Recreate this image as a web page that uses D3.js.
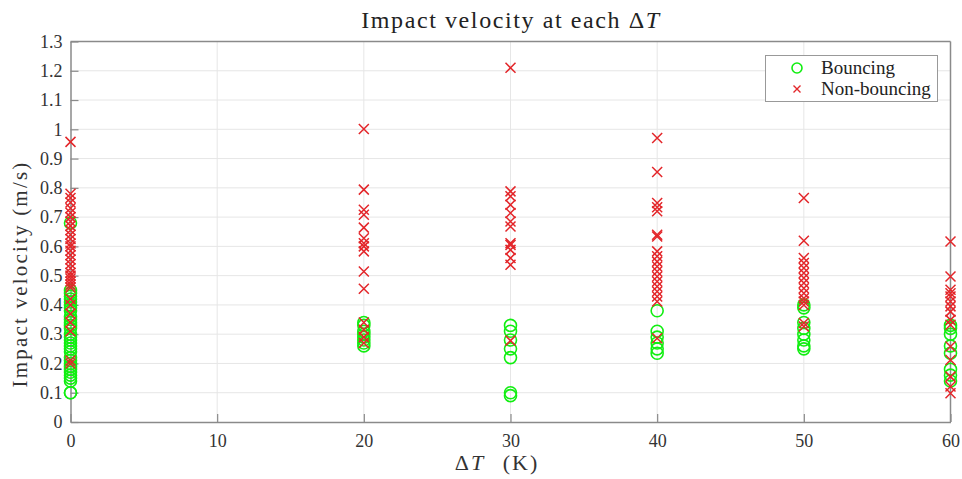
<!DOCTYPE html>
<html><head><meta charset="utf-8">
<script src="https://cdn.jsdelivr.net/npm/d3@7"></script>
<style>body{margin:0;background:#fff}svg text{font-family:"Liberation Serif","Times New Roman",serif}</style>
</head><body><svg id="c" width="962" height="479"></svg>
<script>
const xTicks = [0,10,20,30,40,50,60];
const yTicks = [0,0.1,0.2,0.3,0.4,0.5,0.6,0.7,0.8,0.9,1,1.1,1.2,1.3];
const deltaT = [0,20,30,40,50,60];
const bouncing = [
  [0.68,0.45,0.44,0.43,0.42,0.41,0.40,0.39,0.38,0.36,0.35,0.34,0.33,0.32,0.30,0.29,0.28,0.27,0.26,0.25,0.24,0.22,0.21,0.20,0.19,0.18,0.17,0.16,0.15,0.14,0.10,0.10],
  [0.34,0.33,0.31,0.30,0.29,0.28,0.27,0.26],
  [0.33,0.31,0.28,0.25,0.22,0.10,0.09],
  [0.38,0.31,0.29,0.27,0.25,0.235],
  [0.40,0.39,0.34,0.32,0.30,0.28,0.26,0.25],
  [0.33,0.32,0.30,0.26,0.235,0.18,0.16,0.14]
];
const nonBouncing = [
  [0.957,0.78,0.765,0.75,0.73,0.715,0.70,0.685,0.67,0.655,0.64,0.625,0.61,0.60,0.585,0.57,0.555,0.54,0.525,0.51,0.50,0.49,0.48,0.47,0.46,0.42,0.40,0.37,0.34,0.31,0.21,0.20],
  [1.001,0.794,0.725,0.708,0.664,0.628,0.611,0.60,0.583,0.514,0.455,0.34,0.315,0.29,0.27],
  [1.21,0.788,0.771,0.742,0.714,0.685,0.668,0.611,0.605,0.588,0.56,0.537,0.278],
  [0.970,0.854,0.748,0.734,0.72,0.64,0.634,0.583,0.566,0.548,0.531,0.514,0.497,0.48,0.463,0.446,0.429,0.412,0.286],
  [0.765,0.619,0.56,0.543,0.526,0.509,0.492,0.475,0.457,0.44,0.423,0.412,0.40,0.338,0.326],
  [0.617,0.497,0.452,0.44,0.429,0.412,0.395,0.377,0.349,0.332,0.258,0.212,0.155,0.121,0.098]
];

const svg = d3.select("#c");
const L=70.5, R=950.5, T=41.5, B=422;
const x = d3.scaleLinear().domain([0,60]).range([L,R]);
const y = d3.scaleLinear().domain([0,1.3]).range([B,T]);
const axisCol="#8a8a8a", gridCol="#e6e6e6";

// grid
svg.append("g").selectAll("line").data(xTicks.slice(1,-1)).join("line")
  .attr("x1",d=>x(d)).attr("x2",d=>x(d)).attr("y1",T).attr("y2",B)
  .attr("stroke",gridCol).attr("stroke-width",1);
svg.append("g").selectAll("line").data(yTicks.slice(1,-1)).join("line")
  .attr("y1",d=>y(d)).attr("y2",d=>y(d)).attr("x1",L).attr("x2",R)
  .attr("stroke",gridCol).attr("stroke-width",1);

// axes
const xa = svg.append("g").attr("transform",`translate(0,${B})`)
  .call(d3.axisBottom(x).tickValues(xTicks).tickFormat(d3.format("d")).tickSizeInner(-8).tickSizeOuter(0).tickPadding(12));
const ya = svg.append("g").attr("transform",`translate(${L},0)`)
  .call(d3.axisLeft(y).tickValues(yTicks).tickFormat(d=>d3.format("")(+d.toFixed(1))).tickSizeInner(-8).tickSizeOuter(0).tickPadding(8));
[xa,ya].forEach(a=>{
  a.select(".domain").attr("stroke",axisCol).attr("stroke-width",1.5);
  a.selectAll(".tick line").attr("stroke",axisCol).attr("stroke-width",1.2);
  a.selectAll(".tick text").attr("fill","#333").attr("font-size",18).attr("font-family","Liberation Serif");
});
// box top/right
svg.append("line").attr("x1",L).attr("x2",R).attr("y1",T).attr("y2",T).attr("stroke",axisCol).attr("stroke-width",1.5);
svg.append("line").attr("x1",R).attr("x2",R).attr("y1",T).attr("y2",B).attr("stroke",axisCol).attr("stroke-width",1.5);

// data
const green="#11ee11", red="#e3262a";
deltaT.forEach((dt,i)=>{
  svg.append("g").selectAll("circle").data(bouncing[i]).join("circle")
    .attr("cx",x(dt)).attr("cy",d=>y(d)).attr("r",6)
    .attr("fill","none").attr("stroke",green).attr("stroke-width",1.6);
});
const xs=5;
deltaT.forEach((dt,i)=>{
  svg.append("g").selectAll("path").data(nonBouncing[i]).join("path")
    .attr("d",d=>{const cx=x(dt),cy=y(d);return `M${cx-xs},${cy-xs}L${cx+xs},${cy+xs}M${cx-xs},${cy+xs}L${cx+xs},${cy-xs}`;})
    .attr("stroke",red).attr("stroke-width",1.5).attr("fill","none");
});

// title and labels
const title = svg.append("text").attr("x",511).attr("y",28).attr("text-anchor","middle").attr("font-size",24)
  .attr("letter-spacing",1.6).attr("fill","#222");
title.append("tspan").text("Impact velocity at each Δ");
title.append("tspan").attr("font-style","italic").text("T");
const xl = svg.append("text").attr("x",497).attr("y",470).attr("text-anchor","middle").attr("font-size",22)
  .attr("letter-spacing",2).attr("fill","#333");
xl.append("tspan").text("Δ");
xl.append("tspan").attr("font-style","italic").text("T");
xl.append("tspan").attr("dx",10).text(" (K)");
svg.append("text").attr("transform","translate(27,274) rotate(-90)").attr("text-anchor","middle")
  .attr("font-size",21).attr("letter-spacing",2.2).attr("fill","#333").text("Impact velocity (m/s)");

// legend
const lg = svg.append("g");
lg.append("rect").attr("x",765.5).attr("y",55.5).attr("width",172).attr("height",46)
  .attr("fill","#fff").attr("stroke","#999").attr("stroke-width",1);
lg.append("circle").attr("cx",797).attr("cy",68).attr("r",5).attr("fill","none").attr("stroke",green).attr("stroke-width",1.6);
const lx=797, ly=89, s=3.5;
lg.append("path").attr("d",`M${lx-s},${ly-s}L${lx+s},${ly+s}M${lx-s},${ly+s}L${lx+s},${ly-s}`).attr("stroke",red).attr("stroke-width",1.4);
lg.append("text").attr("x",821).attr("y",74).attr("font-size",19).attr("fill","#222").text("Bouncing");
lg.append("text").attr("x",821).attr("y",95).attr("font-size",19).attr("fill","#222").text("Non-bouncing");
</script></body></html>
